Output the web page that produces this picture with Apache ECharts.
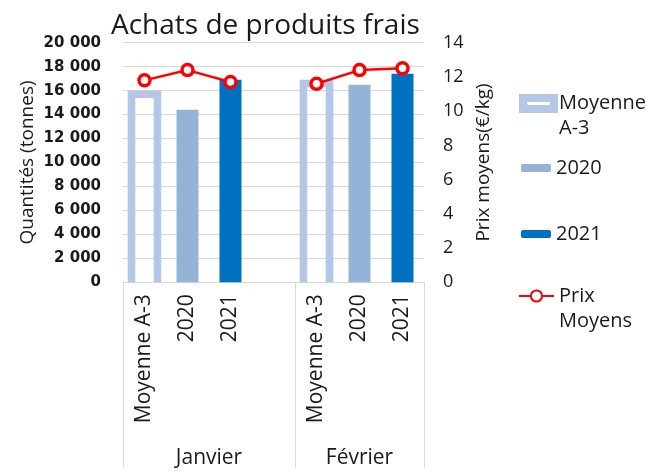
<!DOCTYPE html>
<html>
<head>
<meta charset="utf-8">
<script src="https://cdn.jsdelivr.net/npm/echarts@6/dist/echarts.min.js"></script>
<style>
html,body{margin:0;padding:0;background:#fff;}
#chart{width:665px;height:472px;}
</style>
</head>
<body>
<div id="chart"></div>
<script>
// ---- data ----
const categories = ['Moyenne A-3', '2020', '2021', '', 'Moyenne A-3', '2020', '2021'];
const groupLabels = ['Janvier', 'Février'];
const groupSizes = [4, 3];
const moyenneA3 = [15700, null, null, null, 16600, null, null];
const y2020 = [null, 14400, null, null, null, 16500, null];
const y2021 = [null, null, 16900, null, null, null, 17400];
const prixMoyens = [11.8, 12.4, 11.7, null, 11.6, 12.4, 12.5];

// ---- build group axis (half-slot positions) ----
const nHalf = categories.length * 2 + 1;
const groupAxisData = new Array(nHalf).fill('');
const groupTickIdx = [0];
let acc = 0;
groupSizes.forEach((s, i) => {
  const start = acc; acc += s;
  groupAxisData[start + acc] = groupLabels[i];
  groupTickIdx.push(acc * 2);
});

const FONT = 'Open Sans';
const TXT = '#1a1a1a';
const fmtThousands = v => String(v).replace(/\B(?=(\d{3})+(?!\d))/g, ' ');

const chart = echarts.init(document.getElementById('chart'), null, {renderer: 'canvas'});

function legendBox(name, left, top, w, h, extra) {
  return Object.assign({
    show: true, orient: 'vertical', left: left, top: top, padding: 0,
    itemWidth: w, itemHeight: h, selectedMode: false,
    data: [name],
    textStyle: {fontFamily: FONT, fontSize: 20, color: TXT, lineHeight: 25}
  }, extra || {});
}

const moyenneData = moyenneA3.map((v, i) => [i, v]).filter(d => d[1] != null);

const option = {
  backgroundColor: '#fff',
  animation: false,
  title: {
    text: 'Achats de produits frais', left: 111, top: 12, padding: 0,
    textStyle: {fontFamily: FONT, fontSize: 28, fontWeight: 'normal', color: TXT}
  },
  legend: [
    legendBox('Moyenne A-3', 519, 66, 31, 11, {
      data: [{name: 'Moyenne A-3', icon: 'rect', itemStyle: {color: '#fff', borderColor: '#B4C7E7', borderWidth: 8}}],
      formatter: () => '\nMoyenne\nA-3'
    }),
    legendBox('2020', 521, 155.5, 30, 8),
    legendBox('2021', 521, 221.5, 30, 8),
    legendBox('Prix Moyens', 518, 258.5, 35, 14, {
      formatter: () => '\nPrix\nMoyens'
    })
  ],
  grid: {left: 123, right: 241, top: 42.7, bottom: 189.7, containLabel: false},
  xAxis: [
    {
      type: 'category', data: categories, position: 'bottom',
      axisLine: {show: true, lineStyle: {color: '#D9D9D9', width: 1}},
      axisTick: {show: false},
      axisLabel: {rotate: 90, interval: 0, margin: 12, fontFamily: FONT, fontSize: 21, color: TXT}
    },
    {
      type: 'category', data: groupAxisData, position: 'bottom', boundaryGap: false,
      axisLine: {show: false},
      axisTick: {show: true, length: 185, lineStyle: {color: '#D9D9D9', width: 1},
        interval: (idx) => groupTickIdx.indexOf(idx) >= 0},
      axisLabel: {interval: 0, margin: 165, fontFamily: FONT, fontSize: 21, color: TXT}
    }
  ],
  yAxis: [
    {
      type: 'value', min: 0, max: 20000, interval: 2000, position: 'left',
      name: 'Quantités (tonnes)', nameLocation: 'middle', nameGap: 86,
      nameTextStyle: {fontFamily: FONT, fontSize: 19, color: TXT},
      axisLine: {show: false}, axisTick: {show: false},
      splitLine: {show: true, lineStyle: {color: '#D9D9D9', width: 1}},
      axisLabel: {margin: 22, fontFamily: 'DejaVu Sans', fontWeight: 'bold', fontSize: 15, color: TXT,
        formatter: fmtThousands}
    },
    {
      type: 'value', min: 0, max: 14, interval: 2, position: 'right',
      name: 'Prix moyens(€/kg)', nameLocation: 'middle', nameGap: 50,
      nameTextStyle: {fontFamily: FONT, fontSize: 19, color: TXT},
      axisLine: {show: false}, axisTick: {show: false}, splitLine: {show: false},
      axisLabel: {margin: 19, fontFamily: FONT, fontSize: 18, color: TXT}
    }
  ],
  series: [
    {
      name: 'Moyenne A-3', type: 'custom', xAxisIndex: 0, yAxisIndex: 0, data: moyenneData,
      encode: {x: 0, y: 1},
      itemStyle: {color: '#B4C7E7'},
      renderItem: function (params, api) {
        const top = api.coord([api.value(0), api.value(1)]);
        const base = api.coord([api.value(0), 0]);
        const hw = 13;
        return {
          type: 'polyline',
          shape: {points: [[top[0] - hw, base[1]], [top[0] - hw, top[1]], [top[0] + hw, top[1]], [top[0] + hw, base[1]]]},
          style: {fill: null, stroke: '#B4C7E7', lineWidth: 7.6, lineJoin: 'miter'}
        };
      }
    },
    {
      name: '2020', type: 'bar', xAxisIndex: 0, yAxisIndex: 0, data: y2020,
      barWidth: 22, stack: 'yrs', itemStyle: {color: '#95B3D7'}
    },
    {
      name: '2021', type: 'bar', xAxisIndex: 0, yAxisIndex: 0, data: y2021,
      barWidth: 22, stack: 'yrs', itemStyle: {color: '#0070C0'}
    },
    {
      name: 'Prix Moyens', type: 'line', xAxisIndex: 0, yAxisIndex: 1, data: prixMoyens,
      symbol: 'circle', symbolSize: 11, z: 5,
      lineStyle: {color: '#FF0000', width: 2.5},
      itemStyle: {color: '#fff', borderColor: '#FF0000', borderWidth: 3.5}
    }
  ]
};
chart.setOption(option);
</script>
</body>
</html>
